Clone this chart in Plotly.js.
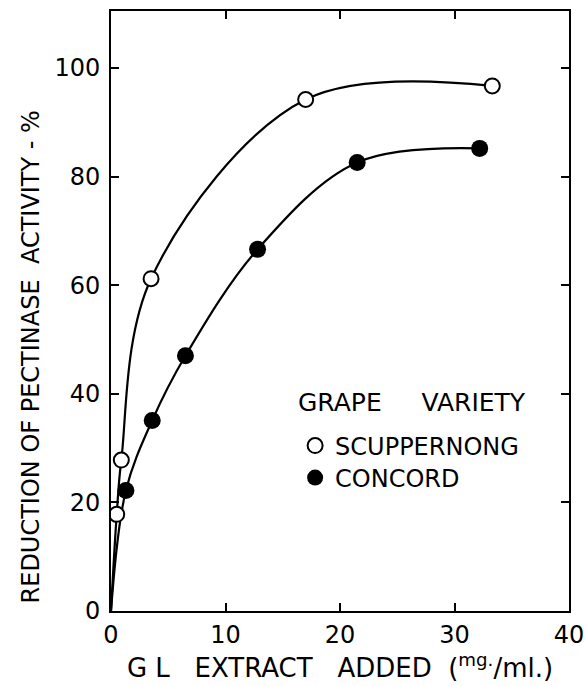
<!DOCTYPE html>
<html>
<head>
<meta charset="utf-8">
<script src="https://cdn.plot.ly/plotly-3.0.1.min.js"></script>
<style>html,body{margin:0;padding:0;background:#fff;}#chart{width:586px;height:686px;}</style>
</head>
<body>
<div id="chart"></div>
<script>
// Data
const scupX = [0, 0.5, 0.9, 3.5, 17.0, 33.3];
const scupY = [0, 17.8, 27.8, 61.2, 94.2, 96.7];
const concX = [0, 1.3, 3.6, 6.5, 12.8, 21.5, 32.2];
const concY = [0, 22.2, 35.1, 47.0, 66.6, 82.6, 85.2];
const xTicks = [0, 10, 20, 30, 40];
const yTicks = [0, 20, 40, 60, 80, 100];
const xTickLabels = ['0', '10', '20', '30', '40'];
const yTickLabels = ['0', '20', '40', '60', '80', '100'];
const seriesNames = ['SCUPPERNONG', 'CONCORD'];
const legendHeading = 'GRAPE\u00A0\u00A0\u00A0\u00A0\u00A0VARIETY';

const font = 'DejaVu Sans, Verdana, sans-serif';
const pad = n => '\u00A0'.repeat(n);

const traces = [
  {x: scupX, y: scupY, mode: 'lines', line: {color: '#000', width: 2.2, shape: 'spline', smoothing: 1}, showlegend: false, hoverinfo: 'skip'},
  {x: concX, y: concY, mode: 'lines', line: {color: '#000', width: 2.2, shape: 'spline', smoothing: 1}, showlegend: false, hoverinfo: 'skip'},
  {x: scupX.slice(1), y: scupY.slice(1), mode: 'markers', name: seriesNames[0], legend: 'legend',
   marker: {size: 15, color: '#fff', line: {color: '#000', width: 2}}},
  {x: concX.slice(1), y: concY.slice(1), mode: 'markers', name: seriesNames[1], legend: 'legend2',
   marker: {size: 17, color: '#000', line: {color: '#000', width: 0}}}
];

const axisCommon = {
  showgrid: false, zeroline: false, showline: true, linecolor: '#000', linewidth: 2,
  mirror: 'ticks', ticks: 'inside', ticklen: 8, tickwidth: 2, tickcolor: '#000',
  tickfont: {family: font, size: 24, color: '#000'}
};

const legendCommon = {
  xanchor: 'left', yanchor: 'middle',
  bgcolor: 'rgba(0,0,0,0)', borderwidth: 0,
  font: {family: font, size: 24, color: '#000'},
  itemwidth: 30, tracegroupgap: 0
};

const layout = {
  width: 586, height: 686,
  margin: {l: 111, r: 17, t: 11, b: 75},
  paper_bgcolor: '#fff', plot_bgcolor: '#fff',
  font: {family: font, color: '#000'},
  xaxis: Object.assign({}, axisCommon, {
    range: [0, 40], tickvals: xTicks, ticktext: xTickLabels, ticklabelstandoff: 1,
    title: {text: pad(4) + 'G L\u00A0\u00A0\u00A0EXTRACT\u00A0\u00A0\u00A0ADDED\u00A0\u00A0(<sup>mg.</sup>/ml.)', font: {family: font, size: 26, color: '#000'}, standoff: 6}
  }),
  yaxis: Object.assign({}, axisCommon, {
    range: [0, 110.5], tickvals: yTicks, ticktext: yTickLabels, ticklabelstandoff: 4,
    title: {text: 'REDUCTION OF PECTINASE\u00A0\u00A0ACTIVITY - %' + pad(12) + '\u200B', font: {family: font, size: 24, color: '#000'}, standoff: 8}
  }),
  legend: Object.assign({}, legendCommon, {x: 0.402, y: (611 - 446) / 600}),
  legend2: Object.assign({}, legendCommon, {x: 0.402, y: (611 - 478) / 600}),
  annotations: [{
    text: legendHeading, xref: 'paper', yref: 'paper', x: 0.404, y: 0.347,
    xanchor: 'left', yanchor: 'middle', showarrow: false,
    font: {family: font, size: 25, color: '#000'}
  }],
  showlegend: true
};

Plotly.newPlot('chart', traces, layout, {staticPlot: true, displayModeBar: false});
</script>
</body>
</html>
